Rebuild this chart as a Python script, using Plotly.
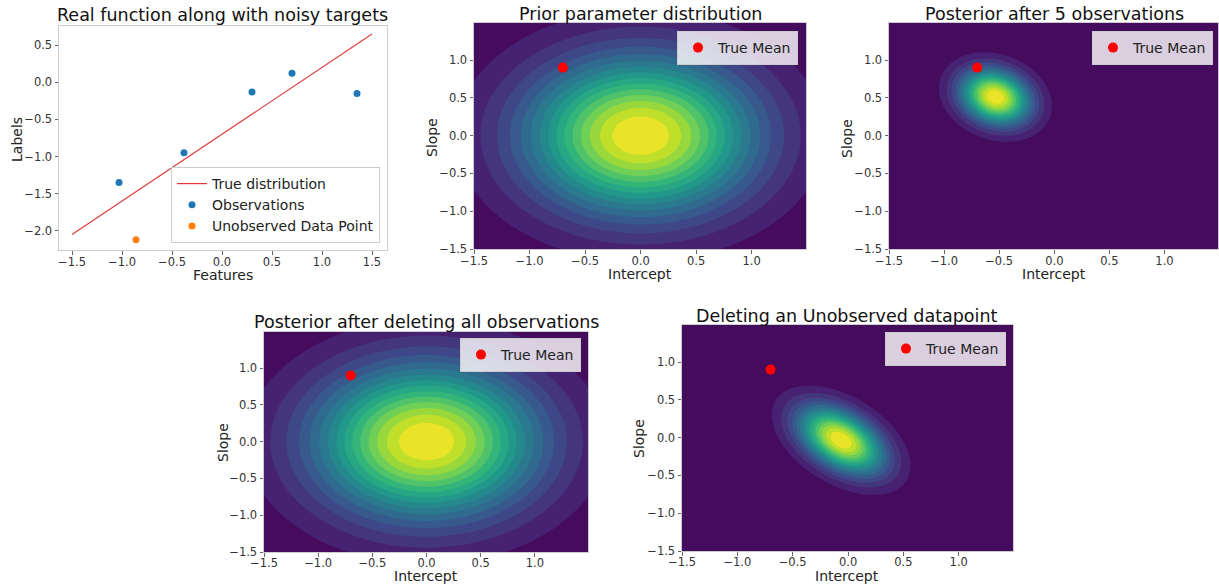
import numpy as np
import plotly.graph_objects as go
from plotly.colors import sample_colorscale

# ---------------- data ----------------
line_x = [-1.5, 1.5]
line_y = [-2.05, 0.65]
obs_x = [-1.03, -0.38, 0.30, 0.70, 1.35]
obs_y = [-1.35, -0.95, -0.13, 0.12, -0.15]
unobs_x = [-0.86]
unobs_y = [-2.12]
true_mean_x = [-0.7]
true_mean_y = [0.9]

prior_mean = [0.0, 0.0]
prior_cov = [[0.5, 0.0], [0.0, 0.5]]
post5_mean = [-0.534, 0.510]
post5_cov = [[0.0473, -0.0108], [-0.0108, 0.0633]]
deleted_all_mean = [0.0, 0.0]
deleted_all_cov = [[0.5, 0.0], [0.0, 0.5]]
unobs_del_mean = [-0.062, -0.035]
unobs_del_cov = [[0.0707, -0.0377], [-0.0377, 0.0943]]

grid_vals = np.arange(-1.5, 1.5, 0.01)
tick_vals = [-1.5, -1.0, -0.5, 0.0, 0.5, 1.0]
tick_vals_y1 = [-2.0, -1.5, -1.0, -0.5, 0.0, 0.5]
tick_vals_x1 = [-1.5, -1.0, -0.5, 0.0, 0.5, 1.0, 1.5]

N_BANDS = 16

W, H = 1219, 585


def px(x):
    return x / W


def py(y):
    return 1 - y / H


def density(mean, cov):
    X, Y = np.meshgrid(grid_vals, grid_vals)
    m = np.array(mean)
    C = np.array(cov)
    Ci = np.linalg.inv(C)
    dx = X - m[0]
    dy = Y - m[1]
    q = Ci[0, 0] * dx * dx + 2 * Ci[0, 1] * dx * dy + Ci[1, 1] * dy * dy
    return np.exp(-0.5 * q) / (2 * np.pi * np.sqrt(np.linalg.det(C)))


band_cols = sample_colorscale("Viridis", [(j + 0.5) / N_BANDS for j in range(N_BANDS)])
cscale = [[j / (N_BANDS - 1), c] for j, c in enumerate(band_cols)]


def contour_trace(mean, cov, xa, ya):
    z = density(mean, cov)
    zmax = float(z.max())
    step = zmax / N_BANDS
    return go.Contour(
        x=grid_vals, y=grid_vals, z=z, xaxis=xa, yaxis=ya,
        colorscale=cscale, showscale=False, autocontour=False,
        contours=dict(start=step, end=step * (N_BANDS - 1), size=step,
                      coloring="fill", showlines=False),
        line=dict(width=0), hoverinfo="skip", showlegend=False,
    )


fig = go.Figure()

# panel 1
fig.add_trace(go.Scatter(x=line_x, y=line_y, mode="lines", name="True distribution",
                         line=dict(color="#e33b3b", width=1.2), xaxis="x", yaxis="y",
                         legend="legend"))
fig.add_trace(go.Scatter(x=obs_x, y=obs_y, mode="markers", name="Observations",
                         marker=dict(color="#1f77b4", size=7), xaxis="x", yaxis="y",
                         legend="legend"))
fig.add_trace(go.Scatter(x=unobs_x, y=unobs_y, mode="markers", name="Unobserved Data Point",
                         marker=dict(color="#ff7f0e", size=7), xaxis="x", yaxis="y",
                         legend="legend"))

panels = [
    (prior_mean, prior_cov, "x2", "y2", "legend2"),
    (post5_mean, post5_cov, "x3", "y3", "legend3"),
    (deleted_all_mean, deleted_all_cov, "x4", "y4", "legend4"),
    (unobs_del_mean, unobs_del_cov, "x5", "y5", "legend5"),
]
for mean, cov, xa, ya, lg in panels:
    fig.add_trace(contour_trace(mean, cov, xa, ya))
    fig.add_trace(go.Scatter(x=true_mean_x, y=true_mean_y, mode="markers", name="True Mean",
                             marker=dict(color="red", size=10), xaxis=xa, yaxis=ya,
                             legend=lg))

# ---------------- layout ----------------
FONT = "DejaVu Sans"
tickfont = dict(family=FONT, size=11.5, color="#333333")
axis_common = dict(showline=True, linecolor="#cccccc", linewidth=1, mirror=True,
                   ticks="outside", ticklen=3.5, tickcolor="#666666", tickfont=tickfont,
                   showgrid=False, zeroline=False, tickformat=".1f", automargin=False)

doms = {
    1: ((59, 387), (26, 250)),
    2: ((474, 806), (23, 249)),
    3: ((889, 1218.5), (23, 249)),
    4: ((264, 588), (332, 552)),
    5: ((682, 1013), (325, 551)),
}

layout = dict(width=W, height=H, margin=dict(l=0, r=0, t=0, b=0, pad=0),
              paper_bgcolor="white", plot_bgcolor="white",
              font=dict(family=FONT, color="#222222"))

for i, ((x0, x1), (y0, y1)) in doms.items():
    xk = "xaxis" if i == 1 else f"xaxis{i}"
    yk = "yaxis" if i == 1 else f"yaxis{i}"
    xref = "x" if i == 1 else f"x{i}"
    yref = "y" if i == 1 else f"y{i}"
    if i == 1:
        xr, yr = [-1.63, 1.65], [-2.257, 0.757]
        xt, yt = tick_vals_x1, tick_vals_y1
    else:
        xr, yr = [-1.5, 1.49], [-1.5, 1.49]
        xt, yt = tick_vals, tick_vals
    layout[xk] = dict(domain=[px(x0), px(x1)], range=xr, tickvals=xt, anchor=yref,
                      ticklabelstandoff=(-3 if i >= 4 else -2), **axis_common)
    layout[yk] = dict(domain=[py(y1), py(y0)], range=yr, tickvals=yt, anchor=xref, **axis_common)

legend_style = dict(bgcolor="rgba(255,255,255,0.8)", bordercolor="#cccccc", borderwidth=1,
                    font=dict(family=FONT, size=14, color="#222222"))
layout["legend"] = dict(x=px(380), y=py(243), xanchor="right", yanchor="bottom", **legend_style)
layout["legend2"] = dict(x=px(798), y=py(31), xanchor="right", yanchor="top", **legend_style)
layout["legend3"] = dict(x=px(1213), y=py(31), xanchor="right", yanchor="top", **legend_style)
layout["legend4"] = dict(x=px(581), y=py(338), xanchor="right", yanchor="top", **legend_style)
layout["legend5"] = dict(x=px(1006), y=py(332), xanchor="right", yanchor="top", **legend_style)

titles = [
    ("Real function along with noisy targets", 222, 15),
    ("Prior parameter distribution", 640, 14),
    ("Posterior after 5 observations", 1054, 14),
    ("Posterior after deleting all observations", 426, 322),
    ("Deleting an Unobserved datapoint", 847, 316),
]
xlabels = [("Features", 223, 275), ("Intercept", 640, 274), ("Intercept", 1054, 274)]
xlabels_bottom = [("Intercept", 426), ("Intercept", 847)]
ylabels = [("Labels", 17, 140), ("Slope", 432, 138), ("Slope", 847, 138),
           ("Slope", 223, 443), ("Slope", 639, 439)]

ann = []
for t, x, y in titles:
    ann.append(dict(text=t, x=px(x), y=py(y), xref="paper", yref="paper", showarrow=False,
                    xanchor="center", yanchor="middle",
                    font=dict(family=FONT, size=17.5, color="#111111")))
for t, x, y in xlabels:
    ann.append(dict(text=t, x=px(x), y=py(y), xref="paper", yref="paper", showarrow=False,
                    xanchor="center", yanchor="middle",
                    font=dict(family=FONT, size=14, color="#222222")))
for t, x in xlabels_bottom:
    ann.append(dict(text=t, x=px(x), y=0, xref="paper", yref="paper", showarrow=False,
                    xanchor="center", yanchor="bottom", borderpad=0,
                    font=dict(family=FONT, size=14, color="#222222")))
for t, x, y in ylabels:
    ann.append(dict(text=t, x=px(x), y=py(y), xref="paper", yref="paper", showarrow=False,
                    xanchor="center", yanchor="middle", textangle=-90,
                    font=dict(family=FONT, size=14, color="#222222")))
layout["annotations"] = ann

fig.update_layout(**layout)
fig.write_html(
    "out.html",
    config={"displayModeBar": False},
    post_script="document.body.style.margin='0';document.body.style.overflow='hidden';"
                "document.documentElement.style.overflow='hidden';",
)
